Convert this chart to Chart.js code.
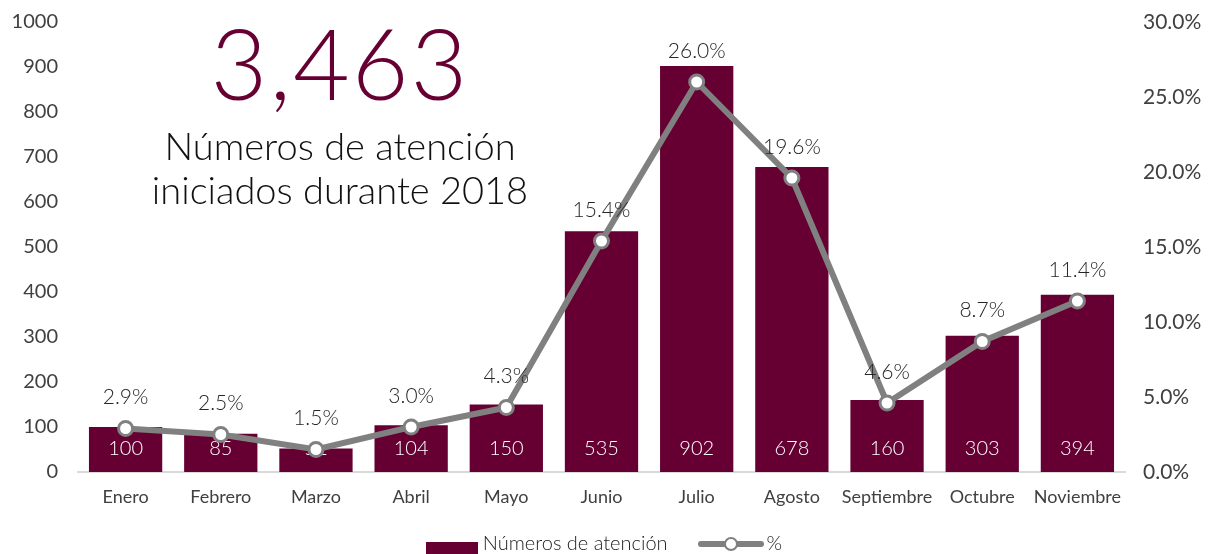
<!DOCTYPE html>
<html>
<head>
<meta charset="utf-8">
<script src="https://cdn.jsdelivr.net/npm/chart.js@4"></script>
<style>
  html, body { margin: 0; padding: 0; background: #fff; }
  #wrap { position: relative; width: 1208px; height: 554px; font-family: "Lato", "Open Sans", sans-serif; }
  #c { position: absolute; left: 0; top: 0; }
  .big { position: absolute; left: 90px; width: 500px; text-align: center; color: #660033; font-weight: 300; letter-spacing: 2px; }
  .sub { position: absolute; left: 90px; width: 500px; text-align: center; color: #111; font-weight: 300; }
  #legend { position: absolute; top: 530px; left: 0; width: 1208px; display: flex; justify-content: center; align-items: center; font-size: 20px; color: #222; font-weight: 300; }
  .lbox { display: inline-block; width: 52px; height: 12px; background: #660033; margin-right: 5px; position: relative; top: 6px; }
  .lline { display: inline-block; position: relative; width: 66px; height: 14px; margin-left: 30px; margin-right: 3px; top: 2px; }
  .lline .bar { position: absolute; left: 0; right: 0; top: 4px; height: 6px; border-radius: 3px; background: #808080; }
  .lline .dot { position: absolute; left: 26px; top: 0; width: 10px; height: 10px; border-radius: 50%; background: #fff; border: 2px solid #808080; }
</style>
</head>
<body>
<div id="wrap">
  <canvas id="c" width="1208" height="554"></canvas>
  <div class="big" style="top:2px;font-size:98px;line-height:120px;">3,463</div>
  <div class="sub" style="top:123px;font-size:38px;line-height:44px;">Números de atención<br>iniciados durante 2018</div>
  <div id="legend"><span class="lbox"></span><span>Números de atención</span><span class="lline"><span class="bar"></span><span class="dot"></span></span><span>%</span></div>
</div>
<script>
const categories = ["Enero","Febrero","Marzo","Abril","Mayo","Junio","Julio","Agosto","Septiembre","Octubre","Noviembre"];
const atenciones = [100, 85, 52, 104, 150, 535, 902, 678, 160, 303, 394];
const porcentajes = [2.9, 2.5, 1.5, 3.0, 4.3, 15.4, 26.0, 19.6, 4.6, 8.7, 11.4];
const leftTicks = [0, 100, 200, 300, 400, 500, 600, 700, 800, 900, 1000];
const rightTicks = [0, 5, 10, 15, 20, 25, 30];

const FONT = '"Lato", "Open Sans", sans-serif';

const labelPlugin = {
  id: 'labels',
  afterDatasetDraw(chart, args) {
    if (args.index !== 1) return;
    const ctx = chart.ctx;
    ctx.save();
    ctx.font = '300 20px ' + FONT;
    ctx.textAlign = 'center';
    ctx.textBaseline = 'middle';
    const barMeta = chart.getDatasetMeta(1);
    const yBase = chart.scales.y.getPixelForValue(0);
    ctx.fillStyle = '#ffffff';
    barMeta.data.forEach((el, i) => {
      ctx.fillText(String(atenciones[i]), el.x, yBase - 23);
    });
    ctx.restore();
  },
  afterDatasetsDraw(chart) {
    const ctx = chart.ctx;
    ctx.save();
    ctx.font = '300 21px ' + FONT;
    ctx.textAlign = 'center';
    ctx.textBaseline = 'middle';
    const lineMeta = chart.getDatasetMeta(0);
    ctx.fillStyle = '#262626';
    lineMeta.data.forEach((el, i) => {
      ctx.fillText(porcentajes[i].toFixed(1) + '%', el.x, el.y - 31);
    });
    ctx.restore();
  }
};

new Chart(document.getElementById('c'), {
  data: {
    labels: categories,
    datasets: [
      {
        type: 'line',
        label: '%',
        data: porcentajes,
        yAxisID: 'y1',
        borderColor: '#808080',
        borderWidth: 6,
        pointRadius: 7,
        pointBorderWidth: 3,
        pointBackgroundColor: '#ffffff',
        pointBorderColor: '#808080',
        tension: 0,
        order: 0
      },
      {
        type: 'bar',
        label: 'Números de atención',
        data: atenciones,
        yAxisID: 'y',
        backgroundColor: '#660033',
        barPercentage: 0.77,
        categoryPercentage: 1.0,
        order: 1
      }
    ]
  },
  options: {
    responsive: false,
    animation: false,
    layout: { padding: { top: 22, bottom: 0, left: 0, right: 0 } },
    plugins: { legend: { display: false }, tooltip: { enabled: false } },
    scales: {
      x: {
        grid: { display: false, drawTicks: false },
        border: { display: true, color: '#d9d9d9', width: 2 },
        ticks: { color: '#404040', font: { family: FONT, size: 18 }, padding: 14, maxRotation: 0 },
        afterFit(s) { s.height = 82; s.paddingLeft = 0; s.paddingRight = 0; }
      },
      y: {
        position: 'left',
        min: 0, max: 1000,
        afterBuildTicks(s) { s.ticks = leftTicks.map(v => ({ value: v })); },
        grid: { display: false, drawTicks: false },
        border: { display: false },
        ticks: { color: '#404040', font: { family: FONT, size: 20 }, padding: 20, callback: v => String(v) },
        afterFit(s) { s.width = 78; s.paddingTop = 10; s.paddingBottom = 10; }
      },
      y1: {
        position: 'right',
        min: 0, max: 30,
        afterBuildTicks(s) { s.ticks = rightTicks.map(v => ({ value: v })); },
        grid: { display: false, drawTicks: false },
        border: { display: false },
        ticks: { color: '#404040', font: { family: FONT, size: 21 }, padding: 18, callback: v => v.toFixed(1) + '%' },
        afterFit(s) { s.width = 83; s.paddingTop = 10; s.paddingBottom = 10; }
      }
    }
  },
  plugins: [labelPlugin]
});
</script>
</body>
</html>
